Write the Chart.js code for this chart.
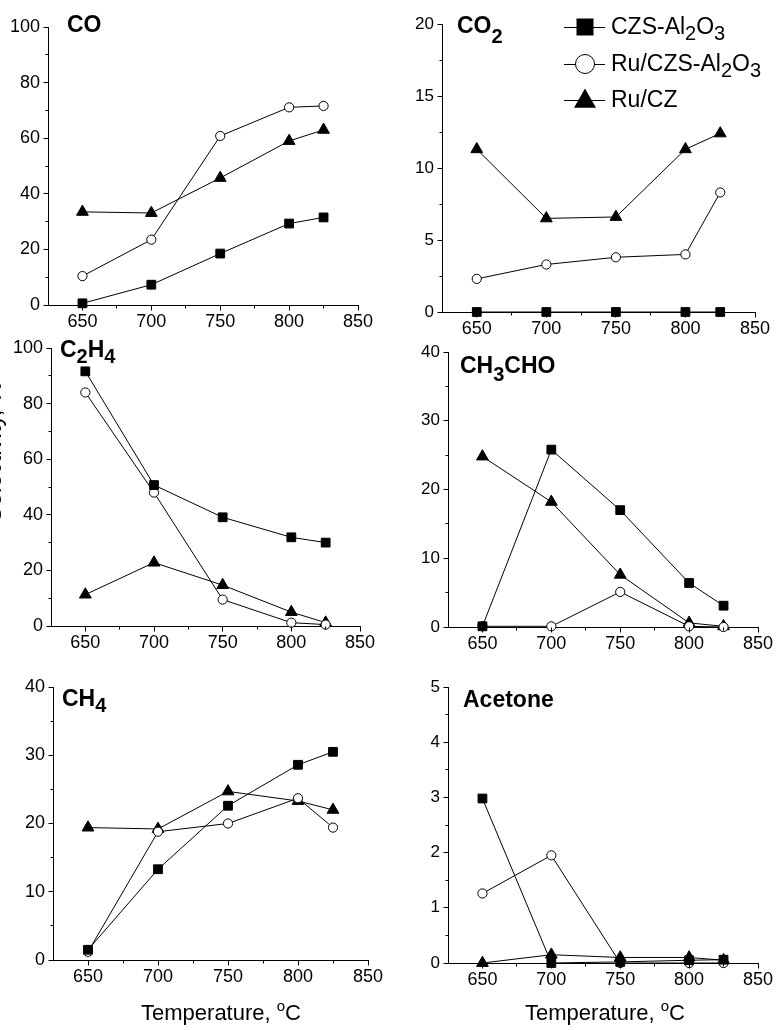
<!DOCTYPE html>
<html><head><meta charset="utf-8">
<script src="https://cdn.jsdelivr.net/npm/chart.js@4.4.0/dist/chart.umd.min.js"></script>
<style>
html,body{margin:0;padding:0;background:#fff;width:777px;height:1030px;overflow:hidden;position:relative}
canvas{position:absolute}
</style></head><body>
<canvas id="c1"></canvas><canvas id="c2"></canvas><canvas id="c3"></canvas>
<canvas id="c4"></canvas><canvas id="c5"></canvas><canvas id="c6"></canvas>
<script>
// ---------------- data ----------------
const temps = [650, 700, 750, 800, 825];
const seriesNames = ['CZS-Al2O3', 'Ru/CZS-Al2O3', 'Ru/CZ'];
const xMajorTicks = [650, 700, 750, 800, 850];
const xMinorTicks = [675, 725, 775, 825];

const coCZS    = [0.6, 7.3, 18.5, 29.3, 31.5];
const coRuCZS  = [10.4, 23.5, 60.8, 71.1, 71.6];
const coRuCZ   = [33.5, 33.1, 45.7, 59.0, 63.0];

const co2CZS   = [0, 0, 0, 0, 0];
const co2RuCZS = [2.3, 3.3, 3.8, 4.0, 8.3];
const co2RuCZ  = [11.3, 6.5, 6.6, 11.3, 12.4];

const c2h4CZS   = [91.6, 50.7, 39.1, 31.9, 30.0];
const c2h4RuCZS = [84.0, 48.0, 9.5, 1.2, 0.5];
const c2h4RuCZ  = [11.3, 22.8, 14.7, 5.0, 1.2];

const ch3choCZS   = [0.1, 25.8, 17.0, 6.4, 3.1];
const ch3choRuCZS = [0.1, 0.1, 5.1, 0.1, 0.0];
const ch3choRuCZ  = [24.8, 18.2, 7.6, 0.6, 0.1];

const ch4CZS   = [1.5, 13.3, 22.6, 28.6, 30.5];
const ch4RuCZS = [1.2, 18.8, 20.0, 23.7, 19.4];
const ch4RuCZ  = [19.4, 19.2, 24.7, 23.3, 22.0];

const acetoneCZS   = [2.98, 0.0, 0.02, 0.05, 0.06];
const acetoneRuCZS = [1.26, 1.95, 0.0, 0.0, 0.0];
const acetoneRuCZ  = [0.0, 0.15, 0.1, 0.1, 0.05];

const yTicks100 = [0, 20, 40, 60, 80, 100];
const yMinor100 = [10, 30, 50, 70, 90];
const yTicks20  = [0, 5, 10, 15, 20];
const yMinor20  = [2.5, 7.5, 12.5, 17.5];
const yTicks40  = [0, 10, 20, 30, 40];
const yMinor40  = [5, 15, 25, 35];
const yTicks5   = [0, 1, 2, 3, 4, 5];
const yMinor5   = [0.5, 1.5, 2.5, 3.5, 4.5];

// rich-text labels (text, mode: 0 normal, 1 subscript, 2 superscript)
const legendLabels = [
  [['CZS-Al', 0], ['2', 1], ['O', 0], ['3', 1]],
  [['Ru/CZS-Al', 0], ['2', 1], ['O', 0], ['3', 1]],
  [['Ru/CZ', 0]]
];
const xTitle = [['Temperature, ', 0], ['o', 2], ['C', 0]];
const yTitle = 'Selectivity, %';

// ---------------- layout ----------------
const FONT = '"Liberation Sans", Arial, Helvetica, sans-serif';
const Y_W = 44, X_H = 30;

const panels = [
  {id:'c1', cx:0,   cy:0,   cw:388, ch:345, L:48,  R:358, T:27,  B:305, yMax:100, yMajor:yTicks100, yMinor:yMinor100, ySize:18,
   data:[coCZS, coRuCZS, coRuCZ], title:[['CO',0]], tx:67, ty:32, subDy:7},
  {id:'c2', cx:390, cy:0,   cw:387, ch:345, L:442, R:755, T:24,  B:312, yMax:20,  yMajor:yTicks20,  yMinor:yMinor20,  ySize:17,
   data:[co2CZS, co2RuCZS, co2RuCZ], title:[['CO',0],['2',1]], tx:457, ty:33, subDy:10, legend:true},
  {id:'c3', cx:0,   cy:330, cw:388, ch:340, L:51,  R:360, T:348, B:626, yMax:100, yMajor:yTicks100, yMinor:yMinor100, ySize:18,
   data:[c2h4CZS, c2h4RuCZS, c2h4RuCZ], title:[['C',0],['2',1],['H',0],['4',1]], tx:60, ty:357, subDy:6, yTitle:true},
  {id:'c4', cx:390, cy:330, cw:387, ch:340, L:448, R:758, T:352, B:627, yMax:40,  yMajor:yTicks40,  yMinor:yMinor40,  ySize:17,
   data:[ch3choCZS, ch3choRuCZS, ch3choRuCZ], title:[['CH',0],['3',1],['CHO',0]], tx:460, ty:373, subDy:8},
  {id:'c5', cx:0,   cy:655, cw:388, ch:375, L:53,  R:368, T:687, B:960, yMax:40,  yMajor:yTicks40,  yMinor:yMinor40,  ySize:18,
   data:[ch4CZS, ch4RuCZS, ch4RuCZ], title:[['CH',0],['4',1]], tx:62, ty:706, subDy:6, xTitle:true, xtx:221},
  {id:'c6', cx:390, cy:655, cw:387, ch:375, L:448, R:758, T:687, B:963, yMax:5,   yMajor:yTicks5,   yMinor:yMinor5,   ySize:17,
   data:[acetoneCZS, acetoneRuCZS, acetoneRuCZ], title:[['Acetone',0]], tx:463, ty:707, subDy:6, xTitle:true, xtx:605}
];

function drawRich(ctx, parts, x, y, o) {
  const fnt = m => (o.bold ? 'bold ' : '') + (m ? o.small : o.size) + 'px ' + FONT;
  const widths = parts.map(([t, m]) => { ctx.font = fnt(m); return ctx.measureText(t).width; });
  const total = widths.reduce((a, b) => a + b, 0);
  let cx = o.align === 'center' ? x - total / 2 : x;
  ctx.textAlign = 'left';
  ctx.textBaseline = 'alphabetic';
  parts.forEach(([t, m], i) => {
    ctx.font = fnt(m);
    const dy = m === 1 ? o.subDy : (m === 2 ? -o.supDy : 0);
    ctx.fillText(t, cx, y + dy);
    cx += widths[i];
  });
}

function align(p) { return Math.round(p - 0.5) + 0.5; }

function drawMarker(ctx, style, x, y, s) {
  ctx.beginPath();
  if (style === 'rect') {
    ctx.rect(x - s / 2, y - s / 2, s, s);
    ctx.fillStyle = '#000'; ctx.fill();
  } else if (style === 'circle') {
    ctx.arc(x, y, s / 2, 0, Math.PI * 2);
    ctx.fillStyle = '#fff'; ctx.fill();
    ctx.lineWidth = 1; ctx.strokeStyle = '#000'; ctx.stroke();
  } else {
    const h = s * 0.87;
    ctx.moveTo(x, y - h * 0.6);
    ctx.lineTo(x + s / 2, y + h * 0.4);
    ctx.lineTo(x - s / 2, y + h * 0.4);
    ctx.closePath();
    ctx.fillStyle = '#000'; ctx.fill();
  }
}

const decoPlugin = {
  id: 'deco',
  afterDraw(chart, args, p) {
    const ctx = chart.ctx;
    const xs = chart.scales.x, ys = chart.scales.y, ca = chart.chartArea;
    ctx.save();
    ctx.strokeStyle = '#000'; ctx.lineWidth = 1; ctx.fillStyle = '#000';
    // tick marks (outward)
    const yb = align(ca.bottom), xl = align(ca.left);
    ctx.beginPath();
    xMajorTicks.forEach(v => { const px = align(xs.getPixelForValue(v)); ctx.moveTo(px, yb); ctx.lineTo(px, yb + 5); });
    xMinorTicks.forEach(v => { const px = align(xs.getPixelForValue(v)); ctx.moveTo(px, yb); ctx.lineTo(px, yb + 3); });
    p.yMajor.forEach(v => { const py = align(ys.getPixelForValue(v)); ctx.moveTo(xl - 5, py); ctx.lineTo(xl, py); });
    p.yMinor.forEach(v => { const py = align(ys.getPixelForValue(v)); ctx.moveTo(xl - 3, py); ctx.lineTo(xl, py); });
    ctx.stroke();
    // panel title
    ctx.fillStyle = '#000';
    drawRich(ctx, p.title, p.tx - p.cx, p.ty - p.cy, {size: 23, small: 20, bold: true, subDy: p.subDy});
    // legend
    if (p.legend) {
      const rows = [27, 64, 100];
      const styles = ['rect', 'circle', 'triangle'];
      const sizes = [17, 19, 22];
      rows.forEach((ry, i) => {
        const y = ry - p.cy;
        ctx.beginPath();
        ctx.moveTo(564 - p.cx, align(y)); ctx.lineTo(605 - p.cx, align(y));
        ctx.lineWidth = 1; ctx.strokeStyle = '#000'; ctx.stroke();
        drawMarker(ctx, styles[i], 585 - p.cx, y, sizes[i]);
        ctx.fillStyle = '#000';
        drawRich(ctx, legendLabels[i], 611 - p.cx, y + 7, {size: 23, small: 20, subDy: 6});
      });
    }
    // x axis title
    if (p.xTitle) {
      drawRich(ctx, xTitle, p.xtx - p.cx, 1020 - p.cy, {size: 22, small: 15, supDy: 9, align: 'center'});
    }
    // y axis title (mostly cut off at the page edge)
    if (p.yTitle) {
      ctx.save();
      ctx.translate(1 - p.cx, 452 - p.cy);
      ctx.rotate(-Math.PI / 2);
      ctx.font = '24px ' + FONT;
      ctx.textAlign = 'center';
      ctx.textBaseline = 'alphabetic';
      ctx.fillText(yTitle, 0, 0);
      ctx.restore();
    }
    ctx.restore();
  }
};

function makeDataset(values, style, radius, fill) {
  return {
    data: temps.map((t, i) => ({x: t, y: values[i]})),
    borderColor: '#000', borderWidth: 1, tension: 0, fill: false, clip: false,
    pointStyle: style, pointRadius: radius, pointHoverRadius: radius,
    pointBackgroundColor: fill, pointBorderColor: '#000', pointBorderWidth: 1
  };
}

panels.forEach(p => {
  const cv = document.getElementById(p.id);
  cv.width = p.cw; cv.height = p.ch;
  Object.assign(cv.style, {left: p.cx + 'px', top: p.cy + 'px', width: p.cw + 'px', height: p.ch + 'px'});
  new Chart(cv, {
    type: 'line',
    data: {
      datasets: [
        Object.assign(makeDataset(p.data[0], 'rect', 6.2, '#000'), {label: seriesNames[0]}),
        Object.assign(makeDataset(p.data[1], 'circle', 4.6, '#fff'), {label: seriesNames[1]}),
        Object.assign(makeDataset(p.data[2], 'triangle', 6.8, '#000'), {label: seriesNames[2]})
      ]
    },
    options: {
      responsive: false, animation: false, devicePixelRatio: 1,
      layout: {padding: {left: p.L - p.cx - Y_W, top: p.T - p.cy, right: p.cx + p.cw - p.R, bottom: p.cy + p.ch - p.B - X_H}},
      plugins: {legend: {display: false}, tooltip: {enabled: false}, deco: p},
      events: [],
      scales: {
        x: {
          type: 'linear', min: 625, max: 850,
          grid: {display: false, drawTicks: false},
          border: {display: true, color: '#000', width: 1},
          ticks: {color: '#000', font: {family: FONT, size: 18}, padding: 6, autoSkip: false, maxRotation: 0,
                  callback: v => String(v)},
          afterBuildTicks: s => { s.ticks = xMajorTicks.map(v => ({value: v})); },
          afterFit: s => { s.height = X_H; s.paddingLeft = 0; s.paddingRight = 0; }
        },
        y: {
          type: 'linear', min: 0, max: p.yMax,
          grid: {display: false, drawTicks: false},
          border: {display: true, color: '#000', width: 1},
          ticks: {color: '#000', font: {family: FONT, size: p.ySize}, padding: 8, autoSkip: false,
                  callback: v => String(v)},
          afterBuildTicks: s => { s.ticks = p.yMajor.map(v => ({value: v})); },
          afterFit: s => { s.width = Y_W; s.paddingTop = 0; s.paddingBottom = 0; }
        }
      }
    },
    plugins: [decoPlugin]
  });
});
</script>
</body></html>
